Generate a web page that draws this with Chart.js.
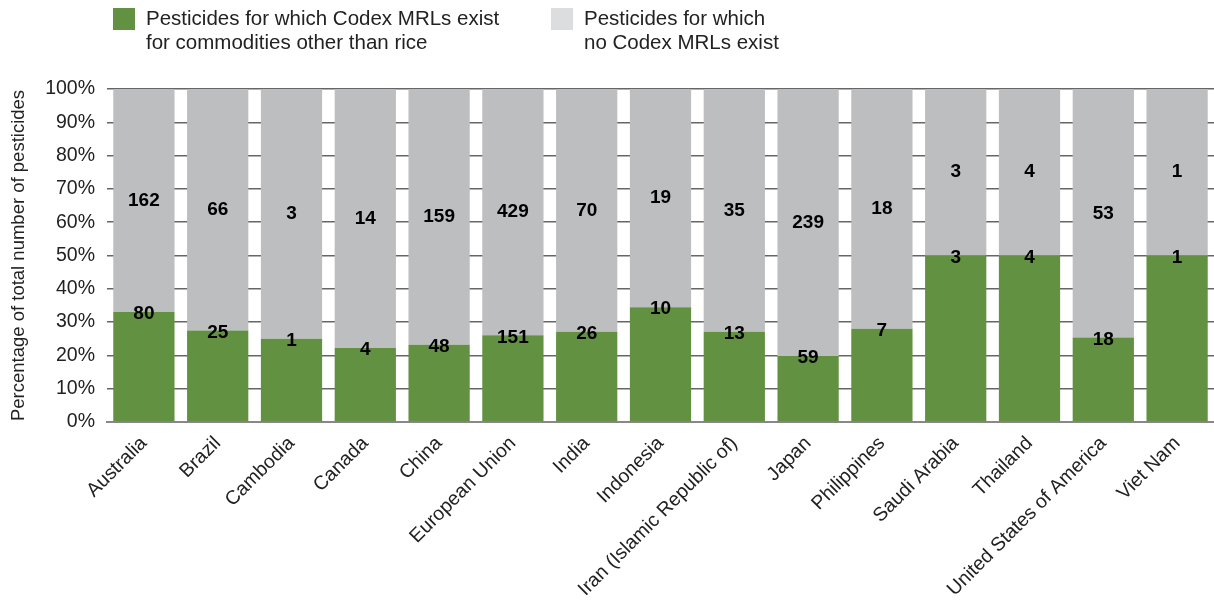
<!DOCTYPE html>
<html>
<head>
<meta charset="utf-8">
<script src="https://cdn.jsdelivr.net/npm/chart.js@4"></script>
<style>
  html, body { margin: 0; padding: 0; background: #fff; }
  #wrap { position: relative; width: 1214px; height: 609px; }
  #chart { position: absolute; left: 0; top: 0; }
  .legend { position: absolute; top: 6px; font-family: 'Liberation Sans', Arial, sans-serif; font-size: 20.5px; line-height: 24px; color: #222; }
  .legend .box { position: absolute; left: 0; top: 2px; width: 22px; height: 22px; }
  .legend .txt { margin-left: 33px; }
</style>
</head>
<body>
<div id="wrap">
  <canvas id="chart" width="1214" height="609"></canvas>
  <div class="legend" style="left:113px"><div class="box" style="background:#629142"></div><div class="txt">Pesticides for which Codex MRLs exist<br>for commodities other than rice</div></div>
  <div class="legend" style="left:551px"><div class="box" style="background:#dcdddf"></div><div class="txt">Pesticides for which<br>no Codex MRLs exist</div></div>
</div>
<script>
// Counts of pesticides per country
const countries = ['Australia', 'Brazil', 'Cambodia', 'Canada', 'China', 'European Union', 'India', 'Indonesia',
  'Iran (Islamic Republic of)', 'Japan', 'Philippines', 'Saudi Arabia', 'Thailand', 'United States of America', 'Viet Nam'];
const withCodex = [80, 25, 1, 4, 48, 151, 26, 10, 13, 59, 7, 3, 4, 18, 1];
const withoutCodex = [162, 66, 3, 14, 159, 429, 70, 19, 35, 239, 18, 3, 4, 53, 1];
const yTicks = [0, 10, 20, 30, 40, 50, 60, 70, 80, 90, 100];

const GREEN = '#629142';
const GREY = '#bdbec0';
const FONT = "'Liberation Sans', Arial, sans-serif";

// convert counts to shares of the total per country
const totals = withCodex.map((v, i) => v + withoutCodex[i]);
const pctWith = withCodex.map((v, i) => v / totals[i] * 100);
const pctWithout = withoutCodex.map((v, i) => v / totals[i] * 100);

// write the raw counts on the segments
const countLabels = {
  id: 'countLabels',
  afterDatasetsDraw(chart) {
    const ctx = chart.ctx;
    const y = chart.scales.y;
    ctx.save();
    ctx.font = 'bold 19px ' + FONT;
    ctx.fillStyle = '#000';
    ctx.textAlign = 'center';
    ctx.textBaseline = 'middle';
    chart.getDatasetMeta(0).data.forEach((bar, i) => {
      const top = y.getPixelForValue(pctWith[i]);
      ctx.fillText(withCodex[i], bar.x, top + 2);
      const mid = y.getPixelForValue(pctWith[i] + pctWithout[i] / 2);
      ctx.fillText(withoutCodex[i], bar.x, mid);
    });
    ctx.restore();
  }
};

new Chart(document.getElementById('chart'), {
  type: 'bar',
  data: {
    labels: countries,
    datasets: [
      { label: 'Pesticides for which Codex MRLs exist for commodities other than rice', data: pctWith, backgroundColor: GREEN },
      { label: 'Pesticides for which no Codex MRLs exist', data: pctWithout, backgroundColor: GREY }
    ]
  },
  options: {
    responsive: false,
    animation: false,
    layout: { padding: { top: 89, left: 8, right: 0, bottom: 0 } },
    datasets: { bar: { categoryPercentage: 0.83, barPercentage: 1 } },
    plugins: {
      legend: { display: false },
      tooltip: { enabled: false }
    },
    scales: {
      x: {
        stacked: true,
        afterFit(axis) { axis.height = 187; },
        grid: { display: false },
        border: { color: '#888', width: 2 },
        ticks: {
          color: '#222',
          font: { family: FONT, size: 19.5 },
          minRotation: 45,
          maxRotation: 45,
          autoSkip: false,
          padding: 2
        }
      },
      y: {
        stacked: true,
        min: 0,
        max: 100,
        afterFit(axis) { axis.width = 99; },
        afterBuildTicks(axis) { axis.ticks = yTicks.map(v => ({ value: v })); },
        grid: { color: '#666', lineWidth: 1.5, drawTicks: false },
        border: { display: false },
        ticks: {
          color: '#222',
          font: { family: FONT, size: 19.5 },
          padding: 12,
          callback: v => v + '%'
        },
        title: {
          display: true,
          text: 'Percentage of total number of pesticides',
          color: '#222',
          font: { family: FONT, size: 18.5 },
          padding: { top: 0, bottom: 2 }
        }
      }
    }
  },
  plugins: [countLabels]
});
</script>
</body>
</html>
